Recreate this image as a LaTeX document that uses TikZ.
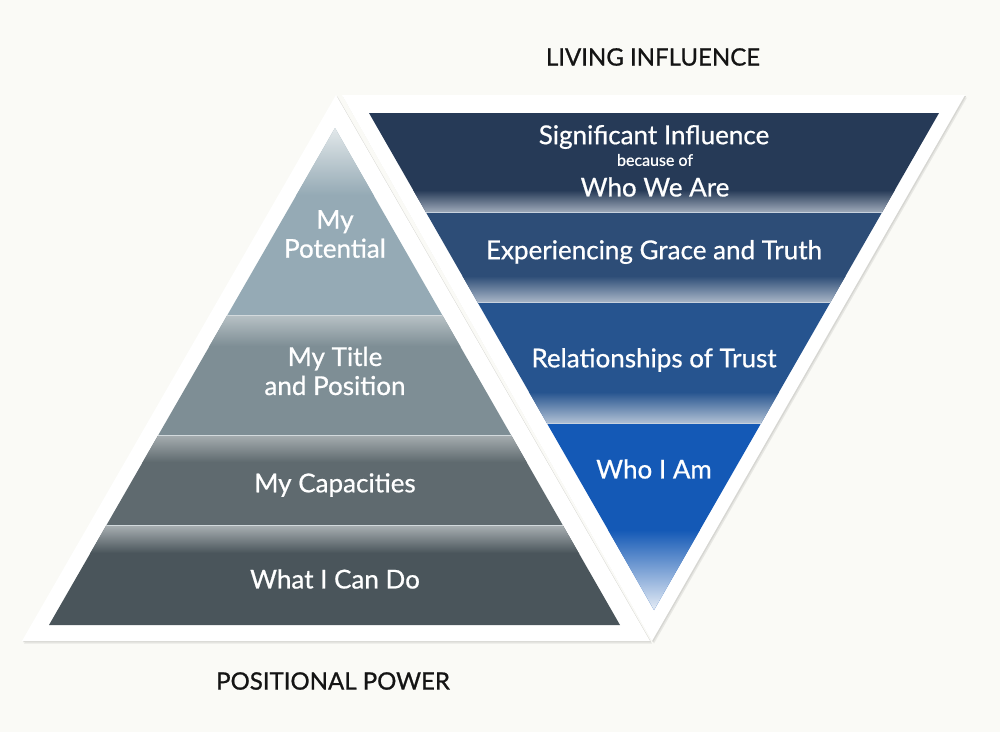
\documentclass[tikz,border=0pt]{standalone}
\usepackage{fontspec}
\setmainfont{Lato}
\newfontfamily\lblfont{Lato}[FakeBold=0.7]
\newfontfamily\ttlfont{Lato}[FakeBold=0.9]
\usetikzlibrary{calc}
\definecolor{bgc}{HTML}{FAFAF6}
\definecolor{shd}{HTML}{D6D6D2}
\definecolor{titlec}{HTML}{141414}
% left pyramid
\definecolor{pA}{HTML}{95AAB5}
\definecolor{pAtop}{HTML}{E2E8EA}
\definecolor{pB}{HTML}{7E8E95}
\definecolor{pBtop}{HTML}{B6C0C4}
\definecolor{pC}{HTML}{5F6A6F}
\definecolor{pCtop}{HTML}{A4ABAE}
\definecolor{pD}{HTML}{4A555B}
\definecolor{pDtop}{HTML}{A6ADB0}
\definecolor{pline}{HTML}{D3DADD}
% right inverted
\definecolor{qA}{HTML}{263A57}
\definecolor{qAbot}{HTML}{9FAABA}
\definecolor{qB}{HTML}{2D4D77}
\definecolor{qBbot}{HTML}{A8B5C6}
\definecolor{qC}{HTML}{26548F}
\definecolor{qCbot}{HTML}{B0C0D4}
\definecolor{qD}{HTML}{1459B6}
\definecolor{qDbot}{HTML}{E8EEF6}
\definecolor{qline}{HTML}{C8D2DE}
\tikzset{
  lbl/.style={text=white, align=center, inner sep=0pt, font=\lblfont\fontsize{26}{29}\selectfont},
  ttl/.style={text=titlec, inner sep=0pt, font=\ttlfont\fontsize{24}{28}\selectfont},
  whitetri/.style={fill=white},
  shadowtri/.style={fill=shd},
}
\begin{document}
\begin{tikzpicture}[x=1pt,y=-1pt]
\useasboundingbox (0,0) rectangle (1000,732);
\fill[bgc] (0,0) rectangle (1000,732);

% outer white triangles
\coordinate (LWa) at (336,95);
\coordinate (LWb) at (22,641);
\coordinate (LWc) at (650,641);
\coordinate (RWa) at (342,95);
\coordinate (RWb) at (965,95);
\coordinate (RWc) at (652,641);
% inner coloured triangles
\coordinate (LCa) at (335,128);
\coordinate (LCb) at (49,625);
\coordinate (LCc) at (620,625);
\coordinate (RCa) at (369,113);
\coordinate (RCb) at (939,113);
\coordinate (RCc) at (654,610);

% shadows
\fill[shadowtri, opacity=0.5] ($(RWa)+(2,2.5)$) -- ($(RWb)+(2,2.5)$) -- ($(RWc)+(2,2.5)$) -- cycle;
\fill[shadowtri] ($(RWa)+(1,1.2)$) -- ($(RWb)+(1,1.2)$) -- ($(RWc)+(1,1.2)$) -- cycle;
\fill[whitetri] (RWa) -- (RWb) -- (RWc) -- cycle;
\fill[shadowtri, opacity=0.5] ($(LWa)+(2,2.5)$) -- ($(LWb)+(2,2.5)$) -- ($(LWc)+(2,2.5)$) -- cycle;
\fill[shadowtri] ($(LWa)+(1,1.2)$) -- ($(LWb)+(1,1.2)$) -- ($(LWc)+(1,1.2)$) -- cycle;
\fill[whitetri] (LWa) -- (LWb) -- (LWc) -- cycle;

% left pyramid bands
\begin{scope}
\clip (LCa) -- (LCb) -- (LCc) -- cycle;
\fill[pA] (0,128) rectangle (700,315);
\shade[top color=pAtop, bottom color=pA] (0,128) rectangle (700,195);
\fill[pB] (0,315) rectangle (700,435);
\shade[top color=pBtop, bottom color=pB] (0,316) rectangle (700,346);
\fill[pC] (0,435) rectangle (700,525);
\shade[top color=pCtop, bottom color=pC] (0,436) rectangle (700,462);
\fill[pD] (0,525) rectangle (700,626);
\shade[top color=pDtop, bottom color=pD] (0,526) rectangle (700,553);
\draw[pline, line width=1pt] (0,315) -- (700,315) (0,435) -- (700,435) (0,525) -- (700,525);
\end{scope}

% right inverted bands
\begin{scope}
\clip (RCa) -- (RCb) -- (RCc) -- cycle;
\fill[qA] (300,112) rectangle (1000,212);
\shade[top color=qA, bottom color=qAbot] (300,190) rectangle (1000,212);
\fill[qB] (300,212) rectangle (1000,302);
\shade[top color=qB, bottom color=qBbot] (300,276) rectangle (1000,302);
\fill[qC] (300,302) rectangle (1000,423);
\shade[top color=qC, bottom color=qCbot] (300,392) rectangle (1000,423);
\fill[qD] (300,423) rectangle (1000,611);
\shade[top color=qD, bottom color=qDbot] (300,530) rectangle (1000,611);
\draw[qline, line width=1pt] (300,212) -- (1000,212) (300,302) -- (1000,302) (300,423) -- (1000,423);
\end{scope}

% labels left
\node[lbl] (potential) at (335,234) {My\\Potential};
\node[lbl] (title) at (335,371) {My Title\\and Position};
\node[lbl] (capacities) at (335,485) {My Capacities};
\node[lbl] (whatdo) at (335,579) {What I Can Do};

% labels right
\node[lbl] (signif) at (654,137) {Significant Influence};
\node[lbl, font=\lblfont\fontsize{16}{18}\selectfont] (because) at (655,160) {because of};
\node[lbl] (whowe) at (655,187) {Who We Are};
\node[lbl] (grace) at (654,252) {Experiencing Grace and Truth};
\node[lbl] (trust) at (654,360) {Relationships of Trust};
\node[lbl] (whoiam) at (654,469) {Who I Am};

% titles
\node[ttl] (living) at (653,57) {LIVING INFLUENCE};
\node[ttl] (positional) at (333,681) {POSITIONAL POWER};
\end{tikzpicture}
\end{document}
